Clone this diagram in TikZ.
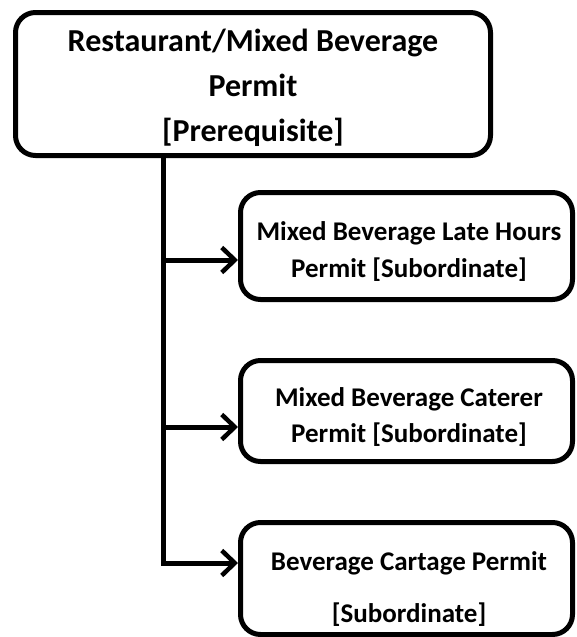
\documentclass[tikz,border=0pt]{standalone}
\usepackage{fontspec}
\setmainfont{Carlito}
\usetikzlibrary{arrows.meta}
\tikzset{
  permitbox/.style={draw, line width=5pt, rounded corners=20pt, inner sep=0pt},
  permittext/.style={align=center, font=\bfseries},
  feed/.style={line width=5pt, -{Straight Barb[length=13pt,width=25pt,line width=4.5pt]}},
}
\begin{document}
\begin{tikzpicture}[x=1pt, y=-1pt]
  \useasboundingbox (0,0) rectangle (577,637);
  % Prerequisite box
  \node[permitbox, minimum width=475pt, minimum height=143pt] (prereq) at (253,84) {};
  \node[permittext, font=\bfseries\fontsize{32}{45}\selectfont] (prereqtxt) at (253,88)
    {Restaurant/Mixed Beverage\\Permit\\{}[Prerequisite]};
  % Subordinate boxes
  \node[permitbox, minimum width=332pt, minimum height=107pt] (latehrs) at (406.5,246) {};
  \node[permittext, font=\bfseries\fontsize{27}{37}\selectfont] (latehrstxt) at (409,252)
    {Mixed Beverage Late Hours\\Permit [Subordinate]};
  \node[permitbox, minimum width=332pt, minimum height=101pt] (caterer) at (406.5,411) {};
  \node[permittext, font=\bfseries\fontsize{27}{36}\selectfont] (caterertxt) at (409,417.5)
    {Mixed Beverage Caterer\\Permit [Subordinate]};
  \node[permitbox, minimum width=332pt, minimum height=112pt] (cartage) at (406.5,578.5) {};
  \node[permittext, font=\bfseries\fontsize{27}{52}\selectfont] (cartagetxt) at (409,589)
    {Beverage Cartage Permit\\{}[Subordinate]};
  % Trunk and branches
  \coordinate (trunk) at (163,0);
  \coordinate (latein) at ([yshift=-14pt]latehrs.west);
  \coordinate (caterin) at ([yshift=-16pt]caterer.west);
  \coordinate (cartin) at ([yshift=15.5pt]cartage.west);
  \draw[feed] (trunk |- prereq.south) |- (cartin);
  \draw[feed] (trunk |- latein) -- (latein);
  \draw[feed] (trunk |- caterin) -- (caterin);
\end{tikzpicture}
\end{document}
